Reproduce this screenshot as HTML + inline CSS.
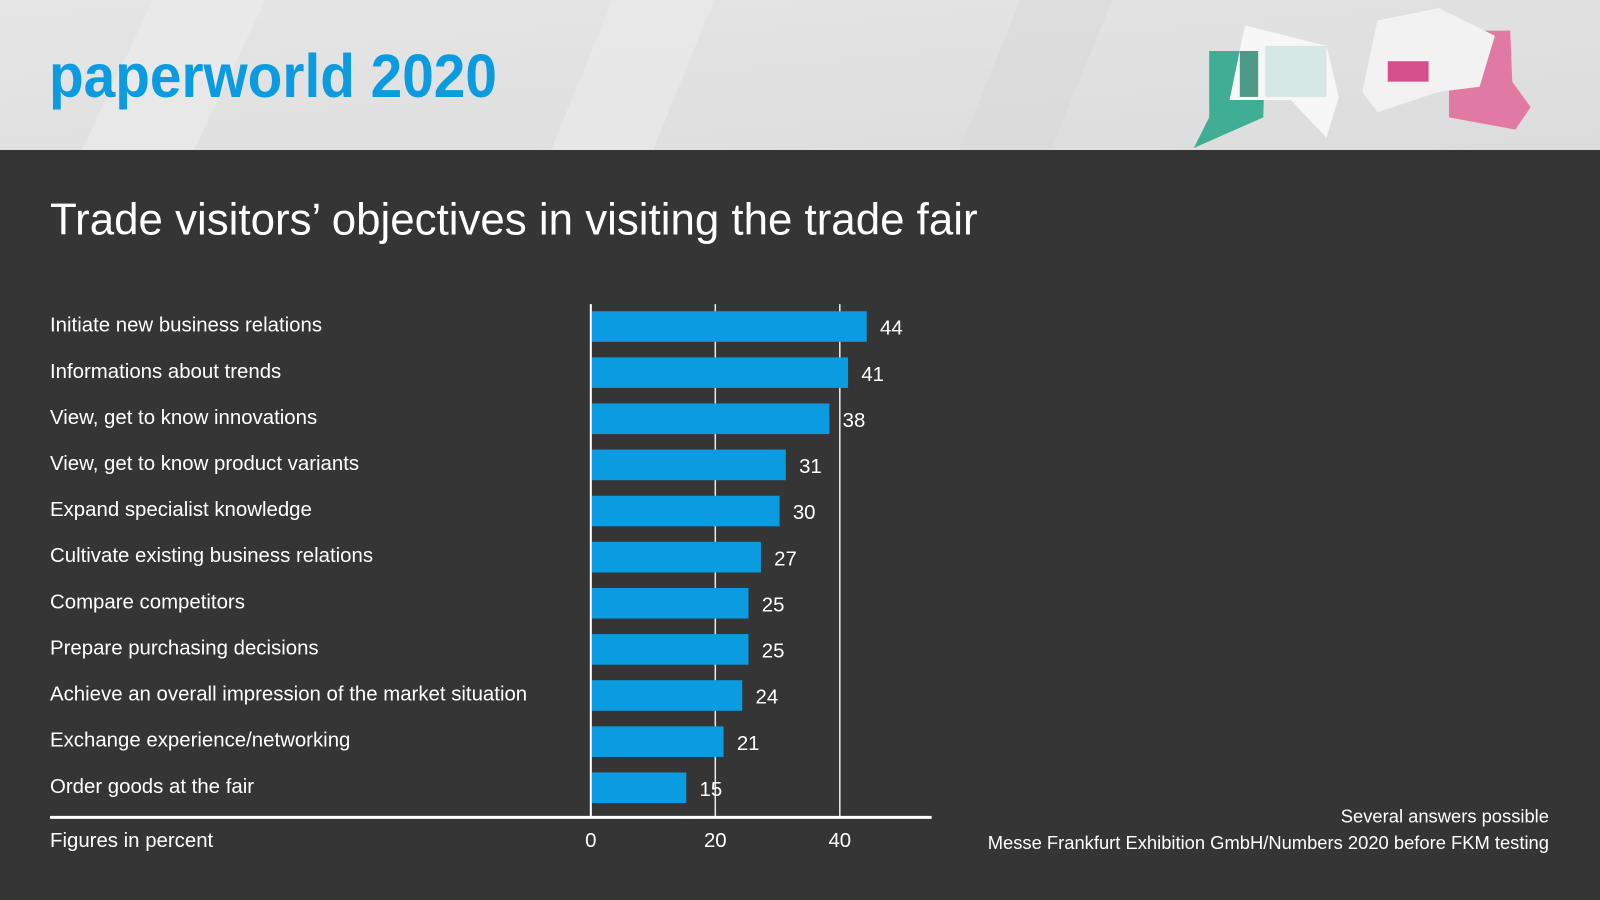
<!DOCTYPE html>
<html><head><meta charset="utf-8"><style>
html,body{margin:0;padding:0;background:#333;}
svg{display:block;}
text{font-family:"Liberation Sans",sans-serif;}
</style></head><body>
<svg id="chart" width="1600" height="900" viewBox="0 0 1568 882" xmlns="http://www.w3.org/2000/svg">
<defs>
<linearGradient id="hdr" x1="0" y1="0" x2="1" y2="1"><stop offset="0" stop-color="#e6e6e6"/><stop offset="1" stop-color="#dcdcdc"/></linearGradient>
</defs>
<rect x="0" y="0" width="1568" height="882" fill="#353535"/>
<g>
<rect x="0" y="0" width="1568" height="147" fill="url(#hdr)"/>
<polygon points="150,0 260,0 190,147 80,147" fill="#ebebeb" opacity="0.7"/>
<polygon points="600,0 700,0 640,147 540,147" fill="#e9e9e9" opacity="0.7"/>
<polygon points="1000,0 1090,0 1030,147 940,147" fill="#d8d8d8" opacity="0.5"/>
<text x="48" y="95" font-size="60" font-weight="bold" fill="#0a9be0" textLength="439" lengthAdjust="spacingAndGlyphs">paperworld 2020</text>
<g>
<polygon points="1185,50 1240,50 1238,115 1170,145 1185,115" fill="#3fae94"/>
<polygon points="1220,25 1300,45 1312,95 1300,135 1265,98 1205,98" fill="#f7f7f7"/>
<rect x="1215" y="50" width="18" height="45" fill="#4c9a87"/>
<rect x="1240" y="45" width="60" height="50" fill="#d6e8e3"/>
<polygon points="1420,30 1480,30 1482,80 1500,105 1485,127 1420,115" fill="#e07aa5"/>
<polygon points="1350,20 1410,8 1465,35 1450,85 1410,90 1350,110 1335,90" fill="#f2f2f2"/>
<rect x="1360" y="60" width="40" height="20" fill="#d44f8c"/>
</g>
</g>
<text x="49" y="230" font-size="44" fill="#ffffff" textLength="909" lengthAdjust="spacingAndGlyphs">Trade visitors’ objectives in visiting the trade fair</text>
<g id="plot"></g>
<text x="49" y="830" font-size="20" fill="#ffffff">Figures in percent</text>
<text x="1518" y="806" font-size="18" fill="#ffffff" text-anchor="end">Several answers possible</text>
<text x="1518" y="832" font-size="18" fill="#ffffff" text-anchor="end">Messe Frankfurt Exhibition GmbH/Numbers 2020 before FKM testing</text>
</svg>
<script>
const categories = ["Initiate new business relations","Informations about trends","View, get to know innovations","View, get to know product variants","Expand specialist knowledge","Cultivate existing business relations","Compare competitors","Prepare purchasing decisions","Achieve an overall impression of the market situation","Exchange experience/networking","Order goods at the fair"];
const values = [44,41,38,31,30,27,25,25,24,21,15];
const ticks = [0,20,40];

const NS = "http://www.w3.org/2000/svg";
const g = document.getElementById("plot");
const x0 = 579, pxPerUnit = 6.1;
const xScale = v => x0 + v * pxPerUnit;
const yTop = 320, step = 45.2, barH = 30;
const yScale = i => yTop + i * step;
function mk(tag, attrs){const e=document.createElementNS(NS,tag);for(const k in attrs)e.setAttribute(k,attrs[k]);g.appendChild(e);return e;}

ticks.forEach((t,i)=>{
  if(t>0){
    const l = mk("line",{x1:xScale(t),x2:xScale(t),y1:298,y2:801,stroke:"#e8e8e8","stroke-width":1.5});
    
    
  }
  const tx = mk("text",{x:xScale(t),y:830,"font-size":20,fill:"#fff","text-anchor":"middle"});
  tx.textContent = t;
  
  
});
categories.forEach((c,i)=>{
  const cy = yScale(i);
  const b = mk("rect",{x:x0+1,y:cy-barH/2,width:xScale(values[i])-x0+1,height:barH,fill:"#0a9be0"});
  
  
  const lb = mk("text",{x:49,y:cy+5,"font-size":20,fill:"#fff"});
  lb.textContent = c;
  
  
  const v = mk("text",{x:xScale(values[i])+15,y:cy+8,"font-size":20,fill:"#fff"});
  v.textContent = values[i];
  
  
});
const ax = mk("line",{x1:x0,x2:x0,y1:298,y2:801,stroke:"#fff","stroke-width":2});


const base = mk("line",{x1:49,x2:913,y1:801,y2:801,stroke:"#fff","stroke-width":3});


</script>
</body></html>
